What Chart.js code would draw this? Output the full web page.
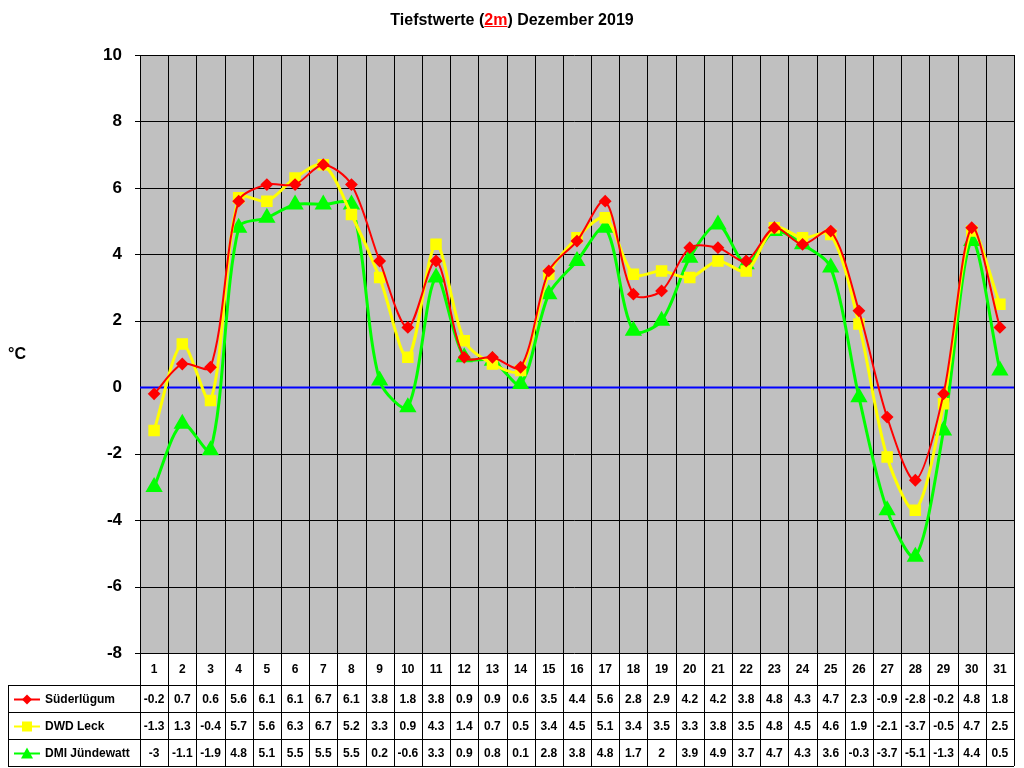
<!DOCTYPE html>
<html><head><meta charset="utf-8">
<script src="https://cdn.jsdelivr.net/npm/chart.js@4"></script>
<style>
html,body{margin:0;padding:0;background:#fff;}
#wrap{position:relative;width:1024px;height:768px;}
#title{position:absolute;top:11px;left:0;width:1024px;text-align:center;font:bold 16px "Liberation Sans",Arial,sans-serif;color:#000;}
#title span{color:#f00;text-decoration:underline;}
</style></head><body>
<div id="wrap"><div id="title">Tiefstwerte (<span>2m</span>) Dezember 2019</div>
<canvas id="c" width="1024" height="768"></canvas></div>
<script>
const days = ["1","2","3","4","5","6","7","8","9","10","11","12","13","14","15","16","17","18","19","20","21","22","23","24","25","26","27","28","29","30","31"];
const suederluegum = [-0.2,0.7,0.6,5.6,6.1,6.1,6.7,6.1,3.8,1.8,3.8,0.9,0.9,0.6,3.5,4.4,5.6,2.8,2.9,4.2,4.2,3.8,4.8,4.3,4.7,2.3,-0.9,-2.8,-0.2,4.8,1.8];
const dwdLeck = [-1.3,1.3,-0.4,5.7,5.6,6.3,6.7,5.2,3.3,0.9,4.3,1.4,0.7,0.5,3.4,4.5,5.1,3.4,3.5,3.3,3.8,3.5,4.8,4.5,4.6,1.9,-2.1,-3.7,-0.5,4.7,2.5];
const dmiJuendewatt = [-3,-1.1,-1.9,4.8,5.1,5.5,5.5,5.5,0.2,-0.6,3.3,0.9,0.8,0.1,2.8,3.8,4.8,1.7,2,3.9,4.9,3.7,4.7,4.3,3.6,-0.3,-3.7,-5.1,-1.3,4.4,0.5];
const yTicks = [-8,-6,-4,-2,0,2,4,6,8,10];

const FONT = '"Liberation Sans",Arial,sans-serif';
const bgPlugin = {
  id:'bg',
  beforeDraw(chart){
    const {ctx,chartArea:a}=chart;
    ctx.save();ctx.fillStyle='#c0c0c0';ctx.fillRect(a.left,a.top,a.right-a.left,a.bottom-a.top);ctx.restore();
  },
  beforeDatasetsDraw(chart){
    const {ctx,chartArea:a,scales}=chart;
    const y=scales.y;
    ctx.save();ctx.strokeStyle='#000';ctx.lineWidth=1;
    const w=(a.right-a.left)/days.length;
    for(let i=0;i<=days.length;i++){const px=Math.round(a.left+i*w)+0.5;ctx.beginPath();ctx.moveTo(px,a.top);ctx.lineTo(px,a.bottom);ctx.stroke();}
    yTicks.forEach(v=>{if(v===0)return;const py=Math.round(y.getPixelForValue(v))+0.5;ctx.beginPath();ctx.moveTo(a.left-5,py);ctx.lineTo(a.right,py);ctx.stroke();});
    const z=Math.round(y.getPixelForValue(0))+0.5;
    ctx.strokeStyle='#0000ff';ctx.lineWidth=2;ctx.beginPath();ctx.moveTo(a.left,z);ctx.lineTo(a.right,z);ctx.stroke();
    ctx.restore();
  },
  afterDraw(chart){
    const {ctx,chartArea:a}=chart;
    const w=(a.right-a.left)/days.length;
    ctx.save();
    ctx.fillStyle='#000';ctx.font='bold 16px '+FONT;ctx.textAlign='left';ctx.textBaseline='middle';
    ctx.fillText('°C',8,355);
    const rows=[a.bottom,685,712,739,766];
    const L=8;
    ctx.strokeStyle='#000';ctx.lineWidth=1;
    ctx.beginPath();
    for(let i=0;i<=days.length;i++){const px=Math.round(a.left+i*w)+0.5;ctx.moveTo(px,a.bottom);ctx.lineTo(px,rows[4]);}
    ctx.moveTo(L+0.5,rows[1]);ctx.lineTo(L+0.5,rows[4]);
    for(let r=1;r<=4;r++){ctx.moveTo(L,rows[r]+0.5);ctx.lineTo(a.right,rows[r]+0.5);}
    ctx.stroke();
    ctx.font='bold 12px '+FONT;ctx.textAlign='center';
    days.forEach((d,i)=>ctx.fillText(d,a.left+(i+0.5)*w,(rows[0]+rows[1])/2+1));
    const ds=chart.data.datasets;
    ds.forEach((s,r)=>{
      const cy=(rows[r+1]+rows[r+2])/2+1;
      s.data.forEach((v,i)=>{ctx.fillStyle='#000';ctx.fillText(String(v),a.left+(i+0.5)*w,cy);});
      ctx.strokeStyle=s.borderColor;ctx.lineWidth=2;ctx.beginPath();ctx.moveTo(14,cy);ctx.lineTo(40,cy);ctx.stroke();
      ctx.fillStyle=s.borderColor;ctx.beginPath();
      const mx=27;
      if(r===0){ctx.moveTo(mx,cy-5);ctx.lineTo(mx+5,cy);ctx.lineTo(mx,cy+5);ctx.lineTo(mx-5,cy);}
      else if(r===1){ctx.rect(mx-5,cy-5,10,10);}
      else {ctx.moveTo(mx,cy-6);ctx.lineTo(mx+6,cy+5);ctx.lineTo(mx-6,cy+5);}
      ctx.closePath();ctx.fill();
      ctx.fillStyle='#000';ctx.textAlign='left';ctx.fillText(s.label,45,cy);ctx.textAlign='center';
    });
    ctx.restore();
  }
};
new Chart(document.getElementById('c'),{
  type:'line',
  data:{labels:days,datasets:[
    {label:'Süderlügum',data:suederluegum,borderColor:'#ff0000',backgroundColor:'#ff0000',pointStyle:'rectRot',pointRadius:5,borderWidth:2,tension:0.3},
    {label:'DWD Leck',data:dwdLeck,borderColor:'#ffff00',backgroundColor:'#ffff00',pointStyle:'rect',pointRadius:6,borderWidth:3,tension:0.3},
    {label:'DMI Jündewatt',data:dmiJuendewatt,borderColor:'#00ff00',backgroundColor:'#00ff00',pointStyle:'triangle',pointRadius:7,borderWidth:3,tension:0.3}
  ]},
  options:{
    responsive:false,animation:false,
    layout:{padding:{top:55,right:-2,bottom:107,left:0}},
    plugins:{legend:{display:false},title:{display:false},tooltip:{enabled:false}},
    scales:{
      x:{offset:true,grid:{display:false},border:{display:false},ticks:{display:false}},
      y:{min:-8,max:10,afterFit(s){s.width=140;},afterBuildTicks(s){s.ticks=yTicks.map(v=>({value:v}));},
         grid:{display:false},border:{color:'#000'},
         ticks:{color:'#000',font:{family:FONT,size:17,weight:'bold'},padding:10}}
    }
  },
  plugins:[bgPlugin]
});
</script></body></html>
